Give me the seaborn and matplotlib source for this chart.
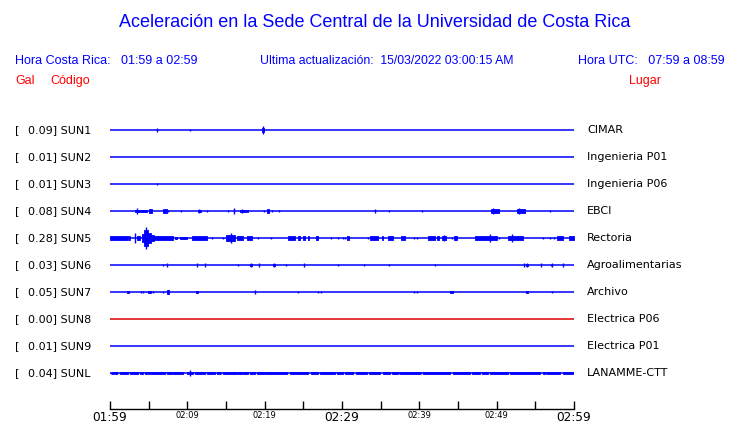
import matplotlib
matplotlib.use("Agg")
import matplotlib.pyplot as plt
import seaborn as sns
import pandas as pd

# ---------------- data ----------------
codes = ["SUN1", "SUN2", "SUN3", "SUN4", "SUN5", "SUN6", "SUN7", "SUN8", "SUN9", "SUNL"]
places = ["CIMAR", "Ingenieria P01", "Ingenieria P06", "EBCI", "Rectoria",
          "Agroalimentarias", "Archivo", "Electrica P06", "Electrica P01", "LANAMME-CTT"]
peaks = [0.09, 0.01, 0.01, 0.08, 0.28, 0.03, 0.05, 0.00, 0.01, 0.04]
trace_colors = ["#0000FF"] * 7 + ["#DD0000"] + ["#0000FF"] * 2

tick_minutes = [0, 5, 10, 15, 20, 25, 30, 35, 40, 45, 50, 55, 60]
tick_labels = ["01:59", "", "02:09", "", "02:19", "", "02:29", "", "02:39", "", "02:49", "", "02:59"]
big_ticks = ["01:59", "02:29", "02:59"]

title = "Aceleración en la Sede Central de la Universidad de Costa Rica"
hora_cr = "Hora Costa Rica:   01:59 a 02:59"
update = "Ultima actualización:  15/03/2022 03:00:15 AM"
hora_utc = "Hora UTC:   07:59 a 08:59"

# events: spikes (minute, amplitude gal) ; bursts (start min, end min, amplitude gal)
sun1_spikes = [(6.08, 0.04), (10.34, 0.025), (19.78, 0.10)]
sun1_bursts = [(19.66, 19.91, 0.06)]
sun2_spikes = []
sun2_bursts = []
sun3_spikes = [(6.08, 0.035)]
sun3_bursts = []
sun4_spikes = [(3.49, 0.075), (7.50, 0.02), (9.18, 0.015), (11.51, 0.06), (12.54, 0.015),
               (15.26, 0.015), (16.03, 0.08), (17.07, 0.05), (19.91, 0.025), (20.44, 0.05),
               (20.95, 0.02), (21.85, 0.025), (34.27, 0.04), (36.08, 0.015), (40.34, 0.015),
               (49.53, 0.08), (52.89, 0.08), (56.90, 0.015)]
sun4_bursts = [(3.23, 4.78, 0.03), (5.04, 5.43, 0.04), (6.85, 7.37, 0.04), (11.38, 11.77, 0.035),
               (16.81, 17.84, 0.035), (20.30, 20.56, 0.04), (49.27, 50.30, 0.06), (52.63, 53.66, 0.06)]
sun5_spikes = [(3.23, 0.13), (4.66, 0.28), (8.50, 0.02), (13.19, 0.025), (14.61, 0.025),
               (15.65, 0.13), (19.14, 0.025), (20.82, 0.025), (28.58, 0.025), (29.48, 0.025),
               (30.13, 0.015), (30.39, 0.025), (33.40, 0.015), (39.31, 0.025), (39.70, 0.015),
               (43.19, 0.08), (44.22, 0.025), (49.14, 0.10), (50.30, 0.025), (51.98, 0.10),
               (55.99, 0.025), (56.90, 0.025), (57.41, 0.025)]
sun5_bursts = [(0.0, 2.33, 0.04), (2.46, 2.60, 0.05), (3.49, 3.88, 0.04), (4.14, 4.40, 0.10),
               (4.40, 4.91, 0.20), (4.91, 5.30, 0.13), (5.30, 5.69, 0.08), (5.69, 8.15, 0.06),
               (8.41, 8.66, 0.025), (9.05, 9.96, 0.03), (10.60, 12.54, 0.05), (15.00, 16.16, 0.07),
               (16.42, 17.20, 0.04), (17.72, 18.36, 0.04), (23.02, 23.92, 0.05), (24.31, 24.57, 0.04),
               (24.96, 25.22, 0.04), (25.60, 25.73, 0.04), (26.64, 26.90, 0.04), (30.65, 30.90, 0.04),
               (33.62, 34.66, 0.04), (35.17, 35.30, 0.04), (35.95, 36.59, 0.04), (37.63, 38.15, 0.04),
               (41.12, 42.03, 0.04), (42.28, 42.54, 0.04), (42.93, 43.45, 0.05), (44.48, 44.87, 0.04),
               (47.20, 50.04, 0.045), (51.47, 53.41, 0.05), (57.80, 58.58, 0.04), (59.35, 60.0, 0.04)]
sun6_spikes = [(6.85, 0.015), (7.37, 0.04), (11.25, 0.04), (12.28, 0.04), (16.55, 0.015),
               (18.23, 0.04), (19.27, 0.04), (21.21, 0.04), (22.76, 0.015), (25.09, 0.04),
               (29.48, 0.025), (32.84, 0.035), (36.08, 0.025), (42.03, 0.035), (53.53, 0.04),
               (53.92, 0.04), (55.73, 0.04), (57.03, 0.025), (57.16, 0.04), (58.58, 0.04)]
sun6_bursts = [(18.15, 18.36, 0.035), (21.10, 21.30, 0.035), (53.85, 54.05, 0.035)]
sun7_spikes = [(2.33, 0.03), (4.01, 0.025), (4.27, 0.025), (5.56, 0.015), (6.85, 0.025),
               (7.50, 0.05), (11.25, 0.035), (18.75, 0.05), (24.31, 0.025), (26.90, 0.035),
               (27.28, 0.035), (39.31, 0.035), (39.70, 0.025), (44.10, 0.035), (53.92, 0.035),
               (57.16, 0.035)]
sun7_bursts = [(2.25, 2.45, 0.03), (4.91, 5.30, 0.035), (7.37, 7.63, 0.04), (11.15, 11.35, 0.03),
               (43.97, 44.30, 0.035), (53.85, 54.00, 0.03)]
sun8_spikes = []
sun8_bursts = []
sun9_spikes = []
sun9_bursts = []
sunl_spikes = [(0.10, 0.02), (0.95, 0.02), (10.34, 0.075), (14.40, 0.02), (22.95, 0.02),
               (37.40, 0.02), (40.25, 0.02), (56.40, 0.02)]
sunl_bursts = [(0.30, 0.56, 0.033), (0.65, 0.87, 0.033), (1.29, 2.37, 0.033), (2.59, 3.66, 0.033),
               (3.88, 4.31, 0.033), (4.53, 4.75, 0.033), (4.95, 5.17, 0.033), (5.30, 7.11, 0.033),
               (7.33, 7.98, 0.033), (8.11, 9.48, 0.033), (9.92, 10.77, 0.033), (10.99, 12.28, 0.033),
               (12.50, 13.58, 0.033), (13.80, 14.22, 0.033), (14.65, 16.38, 0.033), (16.59, 17.03, 0.033),
               (17.24, 17.88, 0.033), (18.10, 18.75, 0.033), (18.97, 20.04, 0.033), (20.17, 22.85, 0.033),
               (23.28, 25.64, 0.033), (25.99, 26.86, 0.033), (27.16, 29.09, 0.033), (29.31, 30.17, 0.033),
               (30.39, 31.46, 0.033), (31.81, 33.19, 0.033), (33.53, 34.91, 0.033), (35.26, 36.21, 0.033),
               (36.43, 37.28, 0.033), (37.50, 40.09, 0.033), (40.43, 43.97, 0.033), (44.39, 46.55, 0.033),
               (46.77, 47.85, 0.033), (48.06, 48.92, 0.033), (49.14, 51.50, 0.033), (51.72, 55.60, 0.033),
               (55.95, 56.25, 0.033), (56.55, 58.19, 0.033), (58.54, 59.91, 0.033)]

all_spikes = [sun1_spikes, sun2_spikes, sun3_spikes, sun4_spikes, sun5_spikes,
              sun6_spikes, sun7_spikes, sun8_spikes, sun9_spikes, sunl_spikes]
all_bursts = [sun1_bursts, sun2_bursts, sun3_bursts, sun4_bursts, sun5_bursts,
              sun6_bursts, sun7_bursts, sun8_bursts, sun9_bursts, sunl_bursts]

# ---------------- style ----------------
sns.set_style("white")
plt.rcParams["font.family"] = ["DejaVu Sans"]
BLUE = "#0000FF"
RED = "#FF0000"
W, H = 740, 423
GAIN = 40.0 / 27.0   # gal -> trace spacing units

fig = plt.figure(figsize=(W / 100, H / 100), dpi=100)
fig.patch.set_facecolor("white")
ax = fig.add_axes([110 / W, (H - 409) / H, 464 / W, 299 / H])
ax.set_facecolor("white")

# baselines through seaborn
rows = []
for i, c in enumerate(codes):
    rows.append({"t": 0.0, "y": i, "code": c})
    rows.append({"t": 60.0, "y": i, "code": c})
df = pd.DataFrame(rows)
sns.lineplot(data=df, x="t", y="y", hue="code", palette=dict(zip(codes, trace_colors)),
             legend=False, estimator=None, linewidth=1.1, ax=ax)

for i, (sp, bu) in enumerate(zip(all_spikes, all_bursts)):
    col = trace_colors[i]
    if sp:
        ts = [s[0] for s in sp]
        amps = [s[1] * GAIN for s in sp]
        ax.vlines(ts, [i - a for a in amps], [i + a for a in amps], colors=col, linewidth=1.0)
    for (t0, t1, a) in bu:
        ax.fill_between([t0, t1], i - a * GAIN, i + a * GAIN, color=col, linewidth=0.6)

ax.set_xlim(0, 60)
ax.set_ylim(10.333, -0.741)
ax.set_yticks([])
ax.set_xlabel("")
ax.set_ylabel("")
for s in ["top", "left", "right"]:
    ax.spines[s].set_visible(False)
ax.spines["bottom"].set_color("black")
ax.spines["bottom"].set_linewidth(1.0)
ax.set_xticks(tick_minutes)
ax.set_xticklabels(tick_labels)
ax.tick_params(axis="x", direction="in", length=6, width=1.0, color="black", pad=1.2,
               bottom=True)
for lab in ax.get_xticklabels():
    if lab.get_text() in big_ticks:
        lab.set_fontsize(8.7)
    else:
        lab.set_fontsize(6)
    lab.set_color("black")

# ---------------- texts ----------------
def fx(px):
    return px / W

def fy(py):
    return 1 - py / H

for i in range(len(codes)):
    yp = 130 + 27 * i
    fig.text(fx(15), fy(yp), "[", fontsize=8, va="center", ha="left", color="black")
    fig.text(fx(28), fy(yp), f"{peaks[i]:.2f}] {codes[i]}", fontsize=8, va="center", ha="left",
             color="black")
    fig.text(fx(587), fy(yp), places[i], fontsize=8, va="center", ha="left", color="black")

hf = "Liberation Sans"
fig.text(fx(375), fy(22.5), title, fontsize=13, family=hf, color=BLUE, ha="center", va="center")
fig.text(fx(15), fy(61), hora_cr, fontsize=9, family=hf, color=BLUE, ha="left", va="center")
fig.text(fx(260), fy(61), update, fontsize=8.85, family=hf, color=BLUE, ha="left", va="center")
fig.text(fx(725), fy(61), hora_utc, fontsize=9, family=hf, color=BLUE, ha="right", va="center")
fig.text(fx(15), fy(81), "Gal", fontsize=9, family=hf, color=RED, ha="left", va="center")
fig.text(fx(50), fy(81), "Código", fontsize=9, family=hf, color=RED, ha="left", va="center")
fig.text(fx(629), fy(81), "Lugar", fontsize=9, family=hf, color=RED, ha="left", va="center")

fig.savefig("out.png", dpi=100, facecolor="white")
